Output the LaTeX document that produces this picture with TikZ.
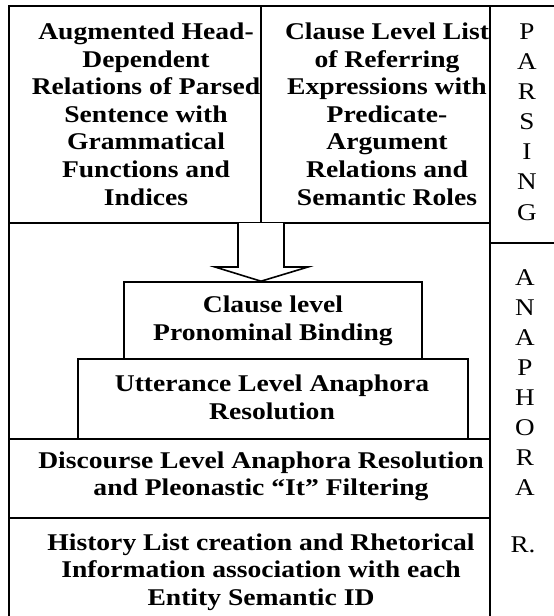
\documentclass[tikz,border=0pt]{standalone}
\usepackage{fontspec}
\setmainfont{Liberation Serif}
\newfontfamily\bst[FakeStretch=1.15]{Liberation Serif Bold}
\newfontfamily\rst[FakeStretch=1.13]{Liberation Serif}
\tikzset{
  ln/.style={line width=1.6pt},
  bt/.style={font=\bst\fontsize{24}{27.6}\selectfont, align=center, inner sep=0pt},
  lt/.style={font=\rst\fontsize{24}{30.1}\selectfont, align=center, inner sep=0pt},
  boxnode/.style={draw, ln, fill=white, inner sep=0pt},
}
\begin{document}
\begin{tikzpicture}[x=1pt,y=-1pt]
\useasboundingbox (0,0) rectangle (554,616);
\clip (0,0) rectangle (554,616);
\fill[white] (0,0) rectangle (554,616);
% frame lines
\draw[ln] (9,620) -- (9,6) -- (560,6);
\draw[ln] (490,6) -- (490,620);
\draw[ln] (261,6) -- (261,223);
\draw[ln] (9,223) -- (490,223);
\draw[ln] (490,243) -- (560,243);
\draw[ln] (9,439) -- (490,439);
\draw[ln] (9,518) -- (490,518);
% top texts
\node[bt] (hd) at (146,114) {Augmented Head-\\Dependent\\Relations of Parsed\\Sentence with\\Grammatical\\Functions and\\Indices};
\node[bt] (cl) at (387,114) {Clause Level List\\of Referring\\Expressions with\\Predicate-\\Argument\\Relations and\\Semantic Roles};
% boxes
\node[boxnode, minimum width=390pt, minimum height=80pt] (utt) at (273,399) {};
\node[bt] (uttt) at (272,397.5) {Utterance Level Anaphora\\Resolution};
\node[boxnode, minimum width=298pt, minimum height=77pt] (clause) at (273,320.5) {};
\node[bt] (clauset) at (273,321) {Clause level\\Pronominal Binding};
% block arrow
\coordinate (atop) at (261,223);
\draw[ln, fill=white, line join=miter] (238,223) -- (238,267) -- (215,267) -- (clause.north -| atop) -- (308,267) -- (284,267) -- (284,223);
% lower texts
\node[bt] (disc) at (261,476.5) {Discourse Level Anaphora Resolution\\and Pleonastic “It” Filtering};
\node[bt] (hist) at (261,572) {History List creation and Rhetorical\\Information association with each\\Entity Semantic ID};
% right column
\node[lt] (pars) at (527,122) {P\\A\\R\\S\\I\\N\\G};
\node[lt] (ana) at (525,382.5) {A\\N\\A\\P\\H\\O\\R\\A};
\node[lt] (anr) at (523,545) {R.};
\end{tikzpicture}
\end{document}
